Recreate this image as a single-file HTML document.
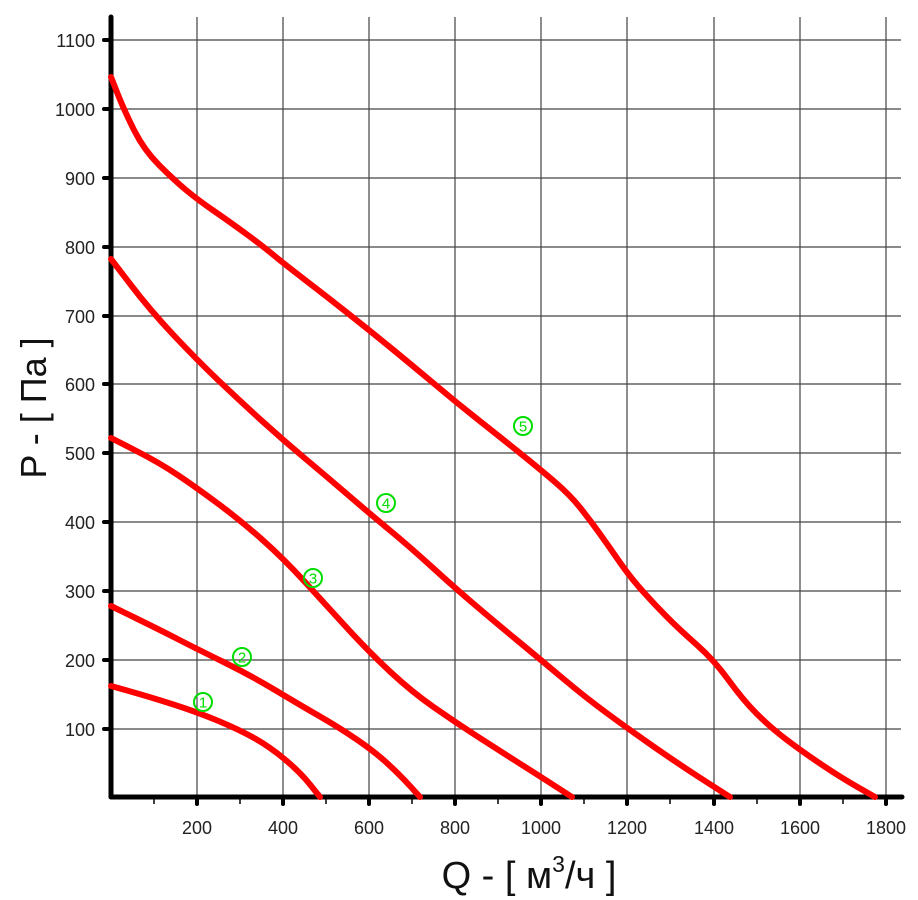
<!DOCTYPE html>
<html><head><meta charset="utf-8"><style>
html,body{margin:0;padding:0;background:#fff;}
svg{display:block;font-family:"Liberation Sans",sans-serif;}
</style></head><body>
<svg width="918" height="900" viewBox="0 0 918 900" xmlns="http://www.w3.org/2000/svg">
<g stroke="#444" stroke-width="1.2">
<line x1="197" y1="17" x2="197" y2="797"/>
<line x1="283" y1="17" x2="283" y2="797"/>
<line x1="369" y1="17" x2="369" y2="797"/>
<line x1="455" y1="17" x2="455" y2="797"/>
<line x1="541" y1="17" x2="541" y2="797"/>
<line x1="627" y1="17" x2="627" y2="797"/>
<line x1="714" y1="17" x2="714" y2="797"/>
<line x1="800" y1="17" x2="800" y2="797"/>
<line x1="886" y1="17" x2="886" y2="797"/>
<line x1="111" y1="729" x2="901" y2="729"/>
<line x1="111" y1="660" x2="901" y2="660"/>
<line x1="111" y1="591" x2="901" y2="591"/>
<line x1="111" y1="522" x2="901" y2="522"/>
<line x1="111" y1="453" x2="901" y2="453"/>
<line x1="111" y1="384" x2="901" y2="384"/>
<line x1="111" y1="316" x2="901" y2="316"/>
<line x1="111" y1="247" x2="901" y2="247"/>
<line x1="111" y1="178" x2="901" y2="178"/>
<line x1="111" y1="109" x2="901" y2="109"/>
<line x1="111" y1="40" x2="901" y2="40"/>
</g>
<g stroke="#000" stroke-width="5" stroke-linecap="round">
<line x1="111" y1="17" x2="111" y2="797"/>
<line x1="111" y1="797" x2="902" y2="797"/>
</g>
<g stroke="#000" stroke-width="4" stroke-linecap="round">
<line x1="104" y1="729" x2="111" y2="729"/><line x1="104" y1="660" x2="111" y2="660"/><line x1="104" y1="591" x2="111" y2="591"/><line x1="104" y1="522" x2="111" y2="522"/><line x1="104" y1="453" x2="111" y2="453"/><line x1="104" y1="384" x2="111" y2="384"/><line x1="104" y1="316" x2="111" y2="316"/><line x1="104" y1="247" x2="111" y2="247"/><line x1="104" y1="178" x2="111" y2="178"/><line x1="104" y1="109" x2="111" y2="109"/><line x1="104" y1="40" x2="111" y2="40"/>
<line x1="197" y1="797" x2="197" y2="804"/><line x1="283" y1="797" x2="283" y2="804"/><line x1="369" y1="797" x2="369" y2="804"/><line x1="455" y1="797" x2="455" y2="804"/><line x1="541" y1="797" x2="541" y2="804"/><line x1="627" y1="797" x2="627" y2="804"/><line x1="714" y1="797" x2="714" y2="804"/><line x1="800" y1="797" x2="800" y2="804"/><line x1="886" y1="797" x2="886" y2="804"/>
</g>
<g stroke="#000" stroke-width="1.5">
<line x1="154" y1="797" x2="154" y2="804"/><line x1="240" y1="797" x2="240" y2="804"/><line x1="326" y1="797" x2="326" y2="804"/><line x1="412" y1="797" x2="412" y2="804"/><line x1="498" y1="797" x2="498" y2="804"/><line x1="584" y1="797" x2="584" y2="804"/><line x1="670" y1="797" x2="670" y2="804"/><line x1="757" y1="797" x2="757" y2="804"/><line x1="843" y1="797" x2="843" y2="804"/>
</g>
<g font-size="18" fill="#222" text-anchor="end">
<text x="95" y="736">100</text><text x="95" y="667">200</text><text x="95" y="598">300</text><text x="95" y="529">400</text><text x="95" y="460">500</text><text x="95" y="391">600</text><text x="95" y="323">700</text><text x="95" y="254">800</text><text x="95" y="185">900</text><text x="95" y="116">1000</text><text x="95" y="47">1100</text>
</g>
<g font-size="18" fill="#222" text-anchor="middle">
<text x="197" y="834">200</text><text x="283" y="834">400</text><text x="369" y="834">600</text><text x="455" y="834">800</text><text x="541" y="834">1000</text><text x="627" y="834">1200</text><text x="714" y="834">1400</text><text x="800" y="834">1600</text><text x="886" y="834">1800</text>
</g>
<g fill="none" stroke="#f00" stroke-width="6" stroke-linejoin="round" stroke-linecap="round">
<path d="M111,686 L130.5,691.5 Q150,697 173.5,704.5 Q197,712 218.5,721 Q240,730 255,738.5 Q270,747 285,759.5 Q300,772 310,784.5 L320,797"/>
<path d="M111,606 L135.5,618 Q160,630 178.5,639.5 Q197,649 223.5,662 Q250,675 275,690 Q300,705 320,716.5 Q340,728 357.5,740 Q375,752 387.5,763.5 Q400,775 410,786 L420,797"/>
<path d="M111,438 L135.5,450.5 Q160,463 178.5,475.5 Q197,488 218.5,504 Q240,520 261.5,539 Q283,558 304.5,581.5 Q326,605 347.5,628.5 Q369,652 390.5,672 Q412,692 433.5,707 Q455,722 477.5,736.5 Q500,751 520.5,764 Q541,777 556.5,787 L572,797"/>
<path d="M111,259 L130.5,284.5 Q150,310 173.5,335 Q197,360 218.5,380.5 Q240,401 261.5,420.5 Q283,440 304.5,458 Q326,476 347.5,494.5 Q369,513 389.5,530 Q410,547 432.5,567.5 Q455,588 475,605 Q495,622 518,641 Q541,660 563,678.5 Q585,697 606,712.5 Q627,728 653.5,746.5 Q680,765 705,781 L730,797"/>
<path d="M111,77 L117.5,93.5 Q124,110 134,130 Q144,150 159,165 Q174,180 186,190 Q198,200 214,211 Q230,222 247,234.5 Q264,247 273.5,255 Q283,263 304.5,279.5 Q326,296 347.5,313 Q369,330 391,348 Q413,366 435,384.5 Q457,403 478.5,420 Q500,437 520.5,453.5 Q541,470 555.5,482.5 Q570,495 580,507.5 Q590,520 600,534 Q610,548 620,562.5 Q630,577 642.5,591 Q655,605 667.5,617.5 Q680,630 697,645 Q714,660 728.5,680 Q743,700 756.5,713.5 Q770,727 785,738.5 Q800,750 820,763.5 Q840,777 857.5,787 L875,797"/>
</g>
<g fill="none" stroke="#0d0" stroke-width="2">
<circle cx="203" cy="702" r="9"/><circle cx="242" cy="657" r="9"/><circle cx="313" cy="578" r="9"/><circle cx="386" cy="503" r="9"/><circle cx="523" cy="426" r="9"/>
</g>
<g fill="#0d0" font-size="15" text-anchor="middle">
<text x="203" y="707.5">1</text><text x="242" y="662.5">2</text><text x="313" y="583.5">3</text><text x="386" y="508.5">4</text><text x="523" y="431.5">5</text>
</g>
<text x="529" y="888" font-size="38" fill="#111" text-anchor="middle">Q - [ м<tspan font-size="23" dy="-16">3</tspan><tspan dy="16">/ч ]</tspan></text>
<text transform="translate(46,408) rotate(-90)" font-size="36" fill="#111" text-anchor="middle">P - [ Па ]</text>
</svg>
</body></html>
